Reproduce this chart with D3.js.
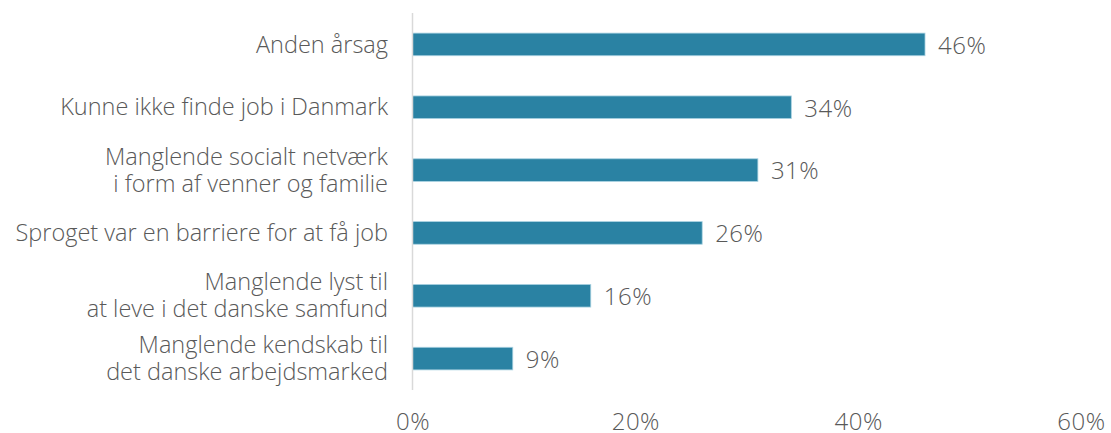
<!DOCTYPE html>
<html>
<head>
<meta charset="utf-8">
<script src="https://cdn.jsdelivr.net/npm/d3@7"></script>
<style>
  html, body { margin: 0; padding: 0; background: #fff; }
  svg text { font-family: "Open Sans", sans-serif; font-weight: 300; fill: #595959; }
</style>
</head>
<body>
<svg id="chart" width="1111" height="433"></svg>
<script>
// Category labels (multi-line labels split into lines)
const categories = [
  ["Anden årsag"],
  ["Kunne ikke finde job i Danmark"],
  ["Manglende socialt netværk", "i form af venner og familie"],
  ["Sproget var en barriere for at få job"],
  ["Manglende lyst til", "at leve i det danske samfund"],
  ["Manglende kendskab til", "det danske arbejdsmarked"]
];
const values = [46, 34, 31, 26, 16, 9];
const tickValues = [0, 20, 40, 60];

const svg = d3.select("#chart");
const labelSize = 23.5;
const numberSize = 24;

const x = d3.scaleLinear().domain([0, 60]).range([412.5, 1081]);
const y = d3.scaleBand()
  .domain(d3.range(categories.length))
  .range([13, 390])
  .paddingInner(0.64)
  .paddingOuter(0.32);

// Bars
svg.append("g").selectAll("rect")
  .data(values)
  .join("rect")
  .attr("x", x(0))
  .attr("y", (d, i) => y(i))
  .attr("width", d => x(d) - x(0))
  .attr("height", y.bandwidth())
  .attr("fill", "#2a82a3")
  .attr("stroke", "#a9d2e1")
  .attr("stroke-width", 0.8);

// Vertical baseline
svg.append("line")
  .attr("x1", x(0)).attr("x2", x(0))
  .attr("y1", 13).attr("y2", 390)
  .attr("stroke", "#d9d9d9").attr("stroke-width", 1.5);

// Value labels
svg.append("g").selectAll("text")
  .data(values)
  .join("text")
  .attr("x", d => x(d) + 13)
  .attr("y", (d, i) => y(i) + y.bandwidth() / 2 + 1)
  .attr("dy", "0.35em")
  .style("font-size", numberSize + "px")
  .style("letter-spacing", "0.5px")
  .text(d => d + "%");

// Category labels
const lineGap = 27;
const cat = svg.append("g").selectAll("text")
  .data(categories)
  .join("text")
  .attr("text-anchor", "end")
  .attr("x", 388)
  .attr("y", (d, i) => y(i) + y.bandwidth() / 2)
  .style("font-size", labelSize + "px");
cat.each(function(lines) {
  const t = d3.select(this);
  const cy = +t.attr("y");
  lines.forEach((ln, k) => {
    const off = (k - (lines.length - 1) / 2) * lineGap;
    t.append("tspan")
      .attr("x", 388)
      .attr("y", cy + off)
      .attr("dy", "0.35em")
      .text(ln);
  });
});

// X axis tick labels
const xAxis = d3.axisBottom(x)
  .tickValues(tickValues)
  .tickFormat(d => d + "%")
  .tickSize(0)
  .tickPadding(0);
const gx = svg.append("g")
  .attr("transform", "translate(0,413)")
  .call(xAxis);
gx.select(".domain").remove();
gx.selectAll("text")
  .style("font-family", "\"Open Sans\", sans-serif")
  .style("font-weight", 300)
  .style("font-size", numberSize + "px")
  .style("letter-spacing", "0.5px")
  .attr("fill", "#595959");
</script>
</body>
</html>
